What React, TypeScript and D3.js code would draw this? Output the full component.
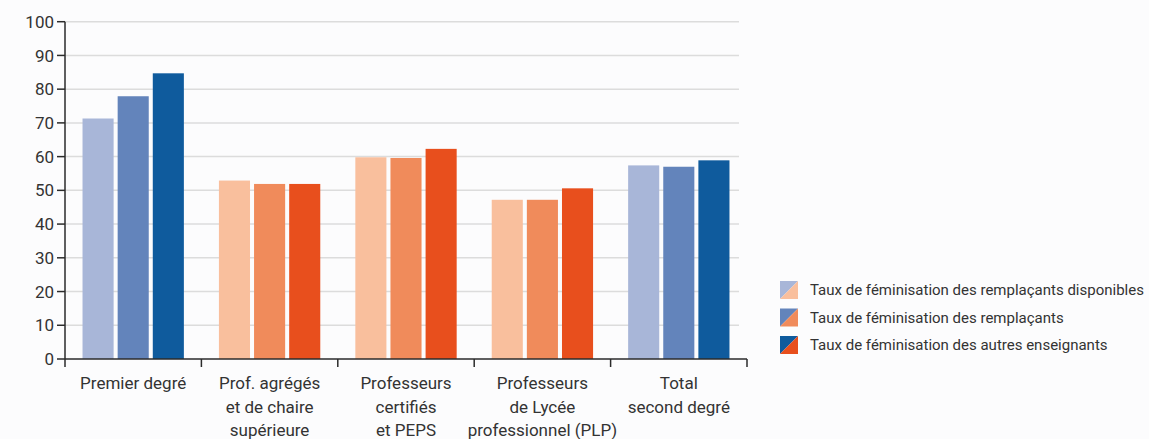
import * as d3 from 'd3'

const categories = [
  ['Premier degré'],
  ['Prof. agrégés', 'et de chaire', 'supérieure'],
  ['Professeurs', 'certifiés', 'et PEPS'],
  ['Professeurs', 'de Lycée', 'professionnel (PLP)'],
  ['Total', 'second degré'],
]
const series = [
  'Taux de féminisation des remplaçants disponibles',
  'Taux de féminisation des remplaçants',
  'Taux de féminisation des autres enseignants',
]
const remplacantsDisponibles = [71.3, 52.9, 59.8, 47.2, 57.4]
const remplacants = [77.9, 51.9, 59.6, 47.2, 57.0]
const autres = [84.7, 51.9, 62.3, 50.6, 58.9]
const yTicks = [0, 10, 20, 30, 40, 50, 60, 70, 80, 90, 100]

const BLUES = ['#a8b6d8', '#6384bb', '#0f5b9d']
const ORANGES = ['#f9bf9d', '#f08b5b', '#e84f1d']
// groups drawn in blue
const blueGroups = [0, 4]

export default function App() {
  const width = 1149
  const height = 439
  const left = 65
  const right = 747
  const top = 21.7
  const bottom = 359

  const values = [remplacantsDisponibles, remplacants, autres]

  const x = d3.scaleBand<number>()
    .domain(categories.map((_, i) => i))
    .range([left, right])
    .paddingInner(0.257)
    .paddingOuter(0.1285)
  const xInner = d3.scaleBand<number>()
    .domain([0, 1, 2])
    .range([0, x.bandwidth()])
    .paddingInner(0.115)
  const y = d3.scaleLinear().domain([0, 100]).range([bottom, top])

  const step = (right - left) / categories.length
  const font = 'Roboto, sans-serif'

  return (
    <svg width={width} height={height} style={{position: 'absolute', left: 0, top: 0}}
      fontFamily={font}>
      <rect width={width} height={height} fill={'#fcfcfd'} />
      {yTicks.filter(t => t > 0).map(t => (
        <line key={t} x1={left} x2={739} y1={y(t)} y2={y(t)} stroke={'#dcdcdc'} strokeWidth={1.5} />
      ))}
      {categories.map((_, ci) => (
        <g key={ci}>
          {values.map((s, si) => {
            const palette = blueGroups.includes(ci) ? BLUES : ORANGES
            return (
              <rect
                key={si}
                x={(x(ci) ?? 0) + (xInner(si) ?? 0)}
                y={y(s[ci])}
                width={xInner.bandwidth()}
                height={y(0) - y(s[ci])}
                fill={palette[si]}
              />
            )
          })}
        </g>
      ))}
      {/* y axis */}
      <line x1={left} x2={left} y1={top} y2={bottom} stroke={'#2b2b2b'} strokeWidth={1.5} />
      {yTicks.map(t => (
        <g key={t}>
          <line x1={left - 8} x2={left} y1={y(t)} y2={y(t)} stroke={'#2b2b2b'} strokeWidth={1.5} />
          <text x={left - 11} y={y(t)} dy={'0.36em'} textAnchor={'end'} fontSize={17} fill={'#333'}>{t}</text>
        </g>
      ))}
      {/* x axis */}
      <line x1={left} x2={right} y1={bottom} y2={bottom} stroke={'#2b2b2b'} strokeWidth={1.5} />
      {d3.range(categories.length + 1).map(i => (
        <line key={i} x1={left + i * step} x2={left + i * step} y1={bottom} y2={bottom + 8}
          stroke={'#2b2b2b'} strokeWidth={1.5} />
      ))}
      {categories.map((lines, ci) => (
        <text key={ci} x={(x(ci) ?? 0) + x.bandwidth() / 2} y={389} textAnchor={'middle'} fontSize={17} fill={'#333'}>
          {lines.map((l, li) => (
            <tspan key={li} x={(x(ci) ?? 0) + x.bandwidth() / 2} dy={li === 0 ? 0 : 23.5}>{l}</tspan>
          ))}
        </text>
      ))}
      {/* legend */}
      {series.map((name, i) => {
        const ly = 281 + i * 27.5
        const s = 18
        return (
          <g key={name} transform={`translate(780, ${ly})`}>
            <path d={`M0,0 H${s} L0,${s} Z`} fill={BLUES[i]} />
            <path d={`M${s},0 V${s} H0 Z`} fill={ORANGES[i]} />
            <text x={30} y={s / 2} dy={'0.36em'} fontSize={15} fill={'#333'}>{name}</text>
          </g>
        )
      })}
    </svg>
  )
}
